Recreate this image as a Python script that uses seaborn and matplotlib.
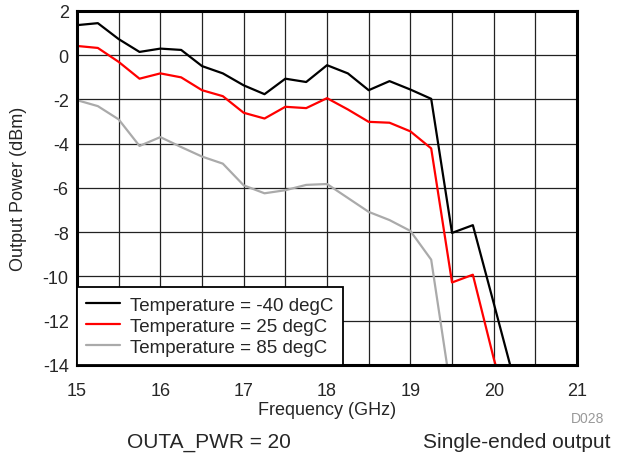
import matplotlib
matplotlib.use('Agg')
import matplotlib.pyplot as plt
import seaborn as sns
import pandas as pd

freq = [15.0, 15.25, 15.5, 15.75, 16.0, 16.25, 16.5, 16.75, 17.0, 17.25, 17.5,
        17.75, 18.0, 18.25, 18.5, 18.75, 19.0, 19.25, 19.5, 19.75, 20.0, 20.25]
pwr_m40 = [1.36, 1.45, 0.73, 0.15, 0.3, 0.24, -0.49, -0.82, -1.36, -1.76, -1.06,
           -1.21, -0.45, -0.82, -1.58, -1.17, -1.55, -1.97, -8.03, -7.68, -11.2, -14.75]
pwr_25 = [0.42, 0.33, -0.30, -1.06, -0.82, -1.0, -1.58, -1.85, -2.6, -2.86, -2.33,
          -2.39, -1.94, -2.45, -3.01, -3.05, -3.44, -4.21, -10.27, -9.92, -13.7, -17.0]
pwr_85 = [-2.03, -2.3, -2.9, -4.1, -3.7, -4.15, -4.58, -4.9, -5.88, -6.24, -6.1,
          -5.86, -5.82, -6.45, -7.08, -7.45, -7.94, -9.24, -15.5]
labels = ['Temperature = -40 degC', 'Temperature = 25 degC', 'Temperature = 85 degC']
colors = ['black', 'red', '#aaaaaa']

sns.set_style('white')
plt.rcParams['font.family'] = ['Liberation Sans', 'DejaVu Sans']
plt.rcParams['axes.unicode_minus'] = False

df = pd.concat([
    pd.DataFrame({'Frequency': freq[:len(p)], 'Power': p, 'Temp': lab})
    for p, lab in zip([pwr_m40, pwr_25, pwr_85], labels)
])

fig = plt.figure(figsize=(6.19, 4.56), dpi=100)
ax = fig.add_axes([0.1244, 0.1974, 0.8078, 0.7763])
sns.lineplot(data=df, x='Frequency', y='Power', hue='Temp', hue_order=labels,
             palette=colors, linewidth=1.6, ax=ax, sort=False)

ax.set_xlim(15, 21)
ax.set_ylim(-14, 2)
ax.set_xticks(range(15, 22))
ax.set_xticks([15.5 + i for i in range(6)], minor=True)
ax.set_yticks(range(-14, 3, 2))
ax.grid(True, which='both', color='#222222', linewidth=0.9)
ax.tick_params(which='both', length=0, labelsize=13)
ax.tick_params(axis='x', pad=12)
ax.tick_params(axis='y', pad=6)
for s in ax.spines.values():
    s.set_linewidth(2.2)
    s.set_color('black')
ax.set_xlabel('Frequency (GHz)', fontsize=13, labelpad=2)
ax.set_ylabel('Output Power (dBm)', fontsize=13, labelpad=11)

leg = ax.legend(loc='lower left', fontsize=13.5, frameon=True, fancybox=False,
                edgecolor='black', framealpha=1, handlelength=1.8,
                handletextpad=0.53, labelspacing=0.2, borderaxespad=0,
                borderpad=0.5)
leg.get_frame().set_linewidth(1.3)

fig.text(0.338, 0.018, 'OUTA_PWR = 20', fontsize=15, ha='center', va='baseline')
fig.text(0.987, 0.018, 'Single-ended output', fontsize=15, ha='right', va='baseline')
fig.text(0.976, 0.073, 'D028', fontsize=10, ha='right', va='baseline', color='#999999')

fig.savefig('out.png', dpi=100)
